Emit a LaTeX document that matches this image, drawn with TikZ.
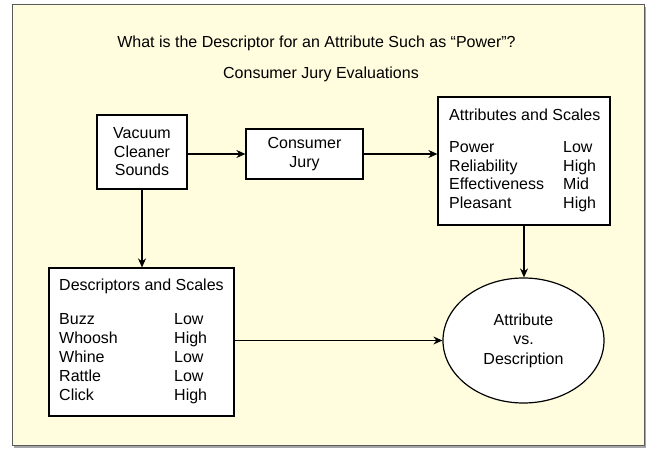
\documentclass[tikz,border=0pt]{standalone}
\usepackage{fontspec}
\setmainfont{Liberation Sans}
\usetikzlibrary{arrows.meta,shapes.geometric}
\definecolor{cream}{RGB}{255,253,222}
\definecolor{framegray}{RGB}{90,90,90}
\tikzset{
  txt/.style={font=\fontsize{16}{18.5}\selectfont, inner sep=0pt},
  box/.style={draw=black, line width=1.2pt, fill=white, inner sep=0pt, txt, align=center},
  arr/.style={line width=1.2pt, -{Stealth[length=9pt,width=8pt]}},
  cell/.style={txt, anchor=base west}
}
\begin{document}
\begin{tikzpicture}[x=1pt,y=-1pt]
\useasboundingbox (0,0) rectangle (649,449);
% frame with shadow
\fill[gray!70] (14,7) rectangle (646,448);
\draw[framegray, line width=1pt, fill=cream] (12,5) rectangle (644,446);
% titles
\node[txt, anchor=base] (t1) at (316.5,48) {What is the Descriptor for an Attribute Such as “Power”?};
\node[txt, anchor=base] (t2) at (321,78.5) {Consumer Jury Evaluations};
% boxes
\node[box, minimum width=90pt, minimum height=74pt] (vac) at (142,152) {Vacuum\\Cleaner\\Sounds};
\node[box, minimum width=117pt, minimum height=50pt, font=\fontsize{16}{19.3}\selectfont] (jury) at (304.5,154) {Consumer\\Jury};
\node[box, minimum width=172pt, minimum height=128pt] (attr) at (524,161) {};
\node[box, minimum width=185pt, minimum height=148pt] (desc) at (141.5,342) {};
\node[box, ellipse, minimum width=161pt, minimum height=125pt, font=\fontsize{16}{19.5}\selectfont] (ell) at (523.5,340.5) {Attribute\\vs.\\Description};
% attributes content
\node[cell] (ah) at (449,121) {Attributes and Scales};
\node[cell] (a1) at (449,153) {Power};
\node[cell] (a2) at (449,171.5) {Reliability};
\node[cell] (a3) at (449,190) {Effectiveness};
\node[cell] (a4) at (449,208.5) {Pleasant};
\node[cell] (b1) at (563,153) {Low};
\node[cell] (b2) at (563,171.5) {High};
\node[cell] (b3) at (563,190) {Mid};
\node[cell] (b4) at (563,208.5) {High};
% descriptors content
\node[cell] (dh) at (59,290.5) {Descriptors and Scales};
\node[cell] (d1) at (59,324.5) {Buzz};
\node[cell] (d2) at (59,344) {Whoosh};
\node[cell] (d3) at (59,362.5) {Whine};
\node[cell] (d4) at (59,381.5) {Rattle};
\node[cell] (d5) at (59,400.5) {Click};
\node[cell] (e1) at (174,324.5) {Low};
\node[cell] (e2) at (174,344) {High};
\node[cell] (e3) at (174,362.5) {Low};
\node[cell] (e4) at (174,381.5) {Low};
\node[cell] (e5) at (174,400.5) {High};
% connectors
\draw[arr] (vac.east |- jury.west) -- (jury.west);
\draw[arr] (jury.east) -- (jury.east -| attr.west);
\draw[arr] (vac.south) -- (vac.south |- desc.north);
\draw[arr] (attr.south) -- (attr.south |- ell.north);
\draw[arr] (desc.east |- ell.west) -- (ell.west);
\end{tikzpicture}
\end{document}
